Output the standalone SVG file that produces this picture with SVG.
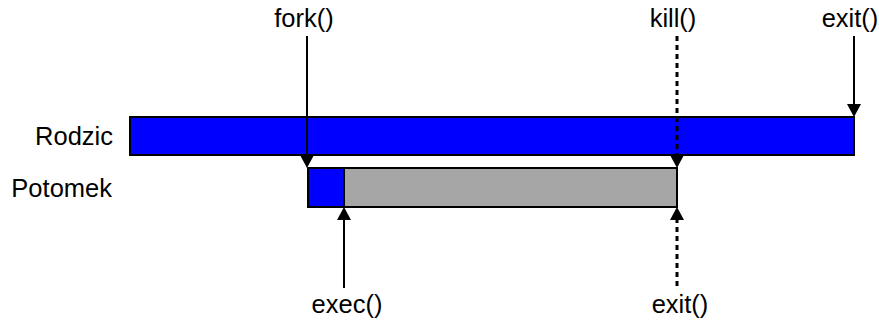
<svg xmlns="http://www.w3.org/2000/svg" width="879" height="322" viewBox="0 0 879 322">
<style>
text{font-family:"Liberation Sans",Arial,sans-serif;font-size:25.5px;fill:#000}
.bar{stroke:#000;stroke-width:2}
.solid{stroke:#000;stroke-width:2;fill:none}
.dot{stroke:#000;stroke-width:3;fill:none;stroke-dasharray:5 4}
.head{fill:#000}
</style>
<rect width="879" height="322" fill="#fff"/>
<g id="rodzic">
<rect class="bar" x="130" y="117" width="724" height="38" fill="#0000FF"/>
<text x="113" y="145" text-anchor="end">Rodzic</text>
</g>
<g id="potomek">
<rect class="bar" x="308" y="168" width="369" height="39" fill="#A6A6A6"/>
<rect class="bar" x="308" y="168" width="36" height="39" fill="#0000FF"/>
<text x="112" y="197" text-anchor="end">Potomek</text>
</g>
<g id="connectors">
<line class="solid" x1="307" y1="36" x2="307" y2="157"/>
<polygon class="head" points="300,155 314,155 307,168"/>
<line class="dot" x1="677" y1="36" x2="677" y2="157"/>
<polygon class="head" points="670,155 684,155 677,168"/>
<line class="solid" x1="854" y1="36" x2="854" y2="106"/>
<polygon class="head" points="847,104 861,104 854,117"/>
<line class="solid" x1="344" y1="218" x2="344" y2="288"/>
<polygon class="head" points="337,220 351,220 344,207"/>
<line class="dot" x1="677" y1="218" x2="677" y2="288"/>
<polygon class="head" points="670,220 684,220 677,207"/>
</g>
<g id="labels">
<text x="304" y="27" text-anchor="middle">fork()</text>
<text x="673" y="27" text-anchor="middle">kill()</text>
<text x="850" y="27" text-anchor="middle">exit()</text>
<text x="347" y="313" text-anchor="middle">exec()</text>
<text x="680" y="313" text-anchor="middle">exit()</text>
</g>
</svg>
